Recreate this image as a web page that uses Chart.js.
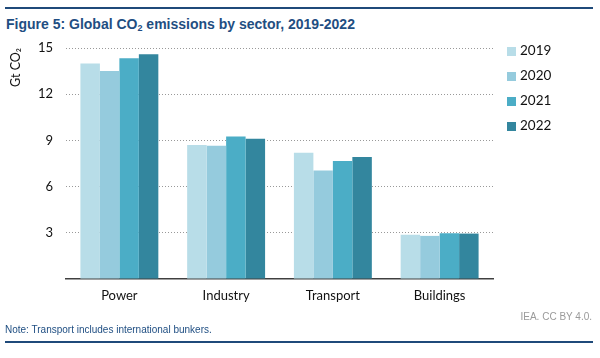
<!DOCTYPE html>
<html><head><meta charset="utf-8">
<script src="https://cdn.jsdelivr.net/npm/chart.js@4"></script>
<style>
html,body{margin:0;padding:0;background:#fff;width:600px;height:358px;overflow:hidden;}
#wrap{position:relative;width:600px;height:358px;}
#chart{position:absolute;left:0;top:0;}
.line{position:absolute;left:5px;width:588px;height:2px;background:#1f4a7a;}
#title{position:absolute;left:6px;top:16px;font:bold 14px "Liberation Sans",Arial,sans-serif;color:#1f4e82;white-space:nowrap;}
#title sub{font-size:9px;vertical-align:-2px;line-height:0;}
#source{position:absolute;right:8px;top:311px;font:10px "Liberation Sans",Arial,sans-serif;color:#9a9a9a;}
#note{position:absolute;left:5px;top:324px;font:10px "Liberation Sans",Arial,sans-serif;color:#1f4e82;}
#legend{position:absolute;left:507px;top:0;font:13.5px Lato,sans-serif;color:#111;}
.li{position:absolute;left:0;white-space:nowrap;}
.sw{display:inline-block;width:9px;height:9px;margin-right:4px;vertical-align:middle;}
</style></head>
<body><div id="wrap">
<div class="line" style="top:7px"></div>
<div id="title">Figure 5: Global CO<sub>2</sub> emissions by sector, 2019-2022</div>
<canvas id="chart" width="600" height="358"></canvas>
<div id="legend"></div>
<div id="source">IEA. CC BY 4.0.</div>
<div id="note">Note: Transport includes international bunkers.</div>
<div class="line" style="top:341px"></div>
</div>
<script>
const categories = ["Power", "Industry", "Transport", "Buildings"];
const years = ["2019", "2020", "2021", "2022"];
const values2019 = [14.0, 8.7, 8.2, 2.87];
const values2020 = [13.5, 8.65, 7.05, 2.8];
const values2021 = [14.33, 9.25, 7.67, 2.97];
const values2022 = [14.6, 9.1, 7.93, 2.95];
const yTicks = [3, 6, 9, 12, 15];
const colors = ["#b8dde8", "#95cbdd", "#4badc6", "#33869e"];
const seriesValues = [values2019, values2020, values2021, values2022];

const datasets = years.map((y, i) => ({
  label: y,
  data: seriesValues[i],
  backgroundColor: colors[i],
  borderWidth: 0,
  categoryPercentage: 0.73,
  barPercentage: 1.0
}));

new Chart(document.getElementById('chart'), {
  type: 'bar',
  data: { labels: categories, datasets },
  options: {
    responsive: false,
    animation: false,
    layout: { padding: { left: 0, right: 107, top: 48, bottom: 49 } },
    plugins: { legend: { display: false }, tooltip: { enabled: false } },
    scales: {
      x: {
        grid: { display: false, drawTicks: false },
        border: { display: true, color: '#404040', width: 1.5 },
        ticks: { color: '#111', font: { family: 'Lato', size: 13 }, padding: 9 },
        afterFit: (a) => { a.height = 30; }
      },
      y: {
        min: 0, max: 15,
        afterBuildTicks: (a) => { a.ticks = [0].concat(yTicks).map(v => ({ value: v })); },
        ticks: { color: '#111', font: { family: 'Lato', size: 13 }, padding: 13,
                 callback: (v) => v === 0 ? '' : v },
        grid: { color: (c) => c.tick && c.tick.value === 0 ? 'rgba(0,0,0,0)' : '#999999', lineWidth: 1, drawTicks: false },
        border: { display: false, dash: [1, 2] },
        title: { display: true, align: 'end', text: 'Gt CO₂', color: '#111', font: { family: 'Lato', size: 12.5 }, padding: { top: 8, bottom: 0 } },
        afterFit: (a) => { a.width = 66; }
      }
    }
  }
});

const lg = document.getElementById('legend');
const lyc = [51, 76, 100.5, 126];
years.forEach((y, i) => {
  const d = document.createElement('div');
  d.className = 'li';
  d.style.top = (lyc[i] - 9) + 'px';
  d.innerHTML = '<span class="sw" style="background:' + colors[i] + '"></span>' + y;
  lg.appendChild(d);
});
</script>
</body></html>
